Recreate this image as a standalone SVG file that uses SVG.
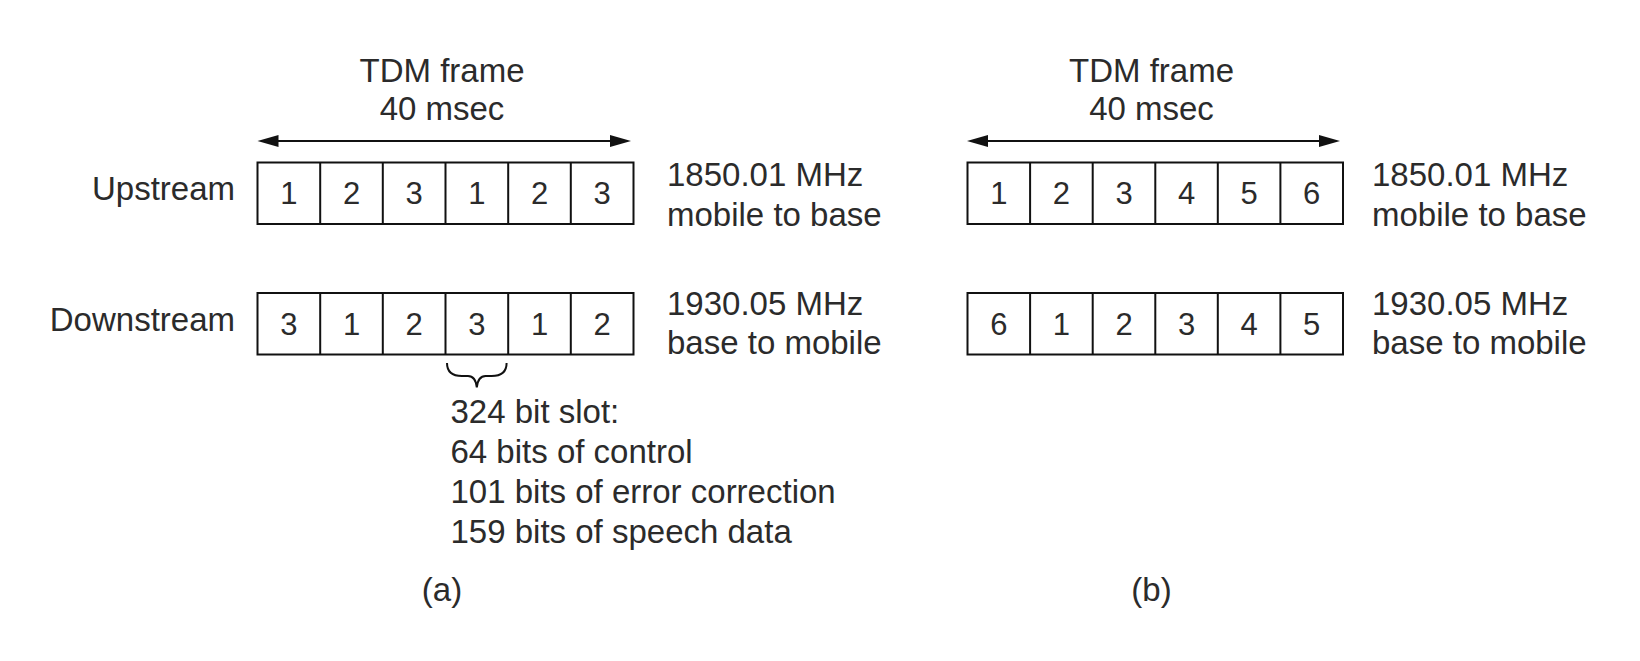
<svg xmlns="http://www.w3.org/2000/svg" width="1640" height="661" viewBox="0 0 1640 661">
<style>
text{font-family:"Liberation Sans",Arial,Helvetica,sans-serif;fill:#2b2b2b}
.t{font-size:33px}
.c{font-size:31px;text-anchor:middle}
.m{text-anchor:middle}
.e{text-anchor:end}
.box{fill:#fff;stroke:#111;stroke-width:2}
.div{stroke:#111;stroke-width:2}
.ln{stroke:#111;stroke-width:2;fill:none}
.ah{fill:#111}
</style>
<rect width="1640" height="661" fill="#fff"/>

<g id="labels-a">
<text class="t m" x="442" y="82">TDM frame</text>
<text class="t m" x="442" y="120">40 msec</text>
<text class="t e" x="235" y="200">Upstream</text>
<text class="t e" x="235" y="331">Downstream</text>
<text class="t" x="667" y="186">1850.01 MHz</text>
<text class="t" x="667" y="226">mobile to base</text>
<text class="t" x="667" y="315">1930.05 MHz</text>
<text class="t" x="667" y="354">base to mobile</text>
<text class="t m" x="442" y="601">(a)</text>
</g>

<g id="labels-b">
<text class="t m" x="1151.5" y="82">TDM frame</text>
<text class="t m" x="1151.5" y="120">40 msec</text>
<text class="t" x="1372" y="186">1850.01 MHz</text>
<text class="t" x="1372" y="226">mobile to base</text>
<text class="t" x="1372" y="315">1930.05 MHz</text>
<text class="t" x="1372" y="354">base to mobile</text>
<text class="t m" x="1151.5" y="601">(b)</text>
</g>

<g id="frame-a-up">
<rect class="box" x="257.5" y="162.5" width="376" height="61.5"/>
<path class="div" d="M320.2,162.5V224M382.8,162.5V224M445.5,162.5V224M508.2,162.5V224M570.8,162.5V224"/>
<text class="c" x="288.8" y="204">1</text>
<text class="c" x="351.5" y="204">2</text>
<text class="c" x="414.2" y="204">3</text>
<text class="c" x="476.8" y="204">1</text>
<text class="c" x="539.5" y="204">2</text>
<text class="c" x="602.2" y="204">3</text>
</g>

<g id="frame-a-down">
<rect class="box" x="257.5" y="293" width="376" height="61.5"/>
<path class="div" d="M320.2,293V354.5M382.8,293V354.5M445.5,293V354.5M508.2,293V354.5M570.8,293V354.5"/>
<text class="c" x="288.8" y="334.5">3</text>
<text class="c" x="351.5" y="334.5">1</text>
<text class="c" x="414.2" y="334.5">2</text>
<text class="c" x="476.8" y="334.5">3</text>
<text class="c" x="539.5" y="334.5">1</text>
<text class="c" x="602.2" y="334.5">2</text>
</g>

<g id="frame-b-up">
<rect class="box" x="967.5" y="162.5" width="375.5" height="61.5"/>
<path class="div" d="M1030.1,162.5V224M1092.7,162.5V224M1155.3,162.5V224M1217.8,162.5V224M1280.4,162.5V224"/>
<text class="c" x="998.8" y="204">1</text>
<text class="c" x="1061.4" y="204">2</text>
<text class="c" x="1124" y="204">3</text>
<text class="c" x="1186.5" y="204">4</text>
<text class="c" x="1249.1" y="204">5</text>
<text class="c" x="1311.7" y="204">6</text>
</g>

<g id="frame-b-down">
<rect class="box" x="967.5" y="293" width="375.5" height="61.5"/>
<path class="div" d="M1030.1,293V354.5M1092.7,293V354.5M1155.3,293V354.5M1217.8,293V354.5M1280.4,293V354.5"/>
<text class="c" x="998.8" y="334.5">6</text>
<text class="c" x="1061.4" y="334.5">1</text>
<text class="c" x="1124" y="334.5">2</text>
<text class="c" x="1186.5" y="334.5">3</text>
<text class="c" x="1249.1" y="334.5">4</text>
<text class="c" x="1311.7" y="334.5">5</text>
</g>

<g id="slot-note">
<path class="ln" d="M447,363 C447,372 452,376 462,376 L468,376 C473,376 476,380 476.8,387.5 C477.6,380 480.6,376 485.6,376 L491.6,376 C501.6,376 506.6,372 506.6,363"/>
<text class="t" x="450.5" y="423">324 bit slot:</text>
<text class="t" x="450.5" y="463">64 bits of control</text>
<text class="t" x="450.5" y="503">101 bits of error correction</text>
<text class="t" x="450.5" y="543">159 bits of speech data</text>
</g>

<g id="connectors">
<line class="ln" x1="275" y1="141" x2="613" y2="141"/>
<polygon class="ah" points="257.5,141 278.5,135 278.5,147"/>
<polygon class="ah" points="631,141 610,135 610,147"/>
<line class="ln" x1="985" y1="141" x2="1322" y2="141"/>
<polygon class="ah" points="967,141 988,135 988,147"/>
<polygon class="ah" points="1340,141 1319,135 1319,147"/>
</g>
</svg>
